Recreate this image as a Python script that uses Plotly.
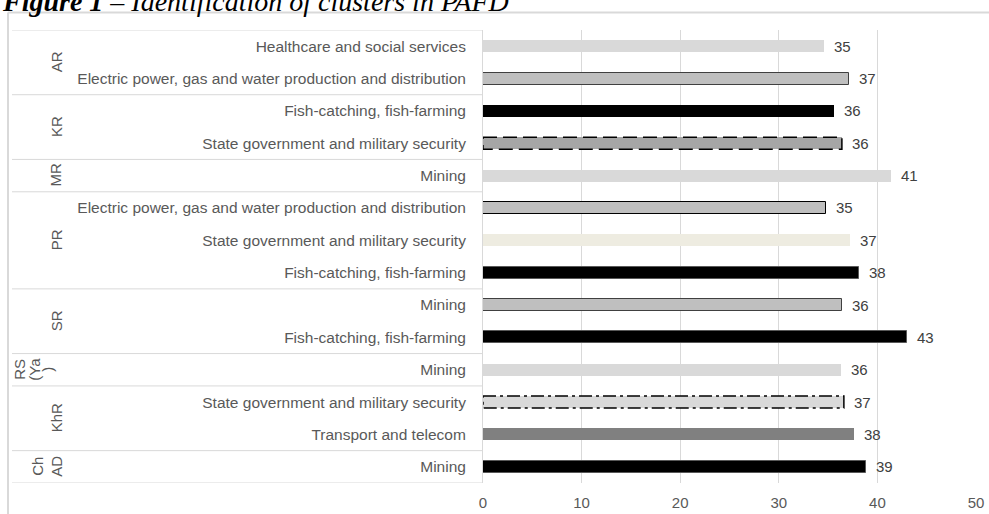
import plotly.graph_objects as go

# ---------------- data ----------------
groups = ["AR", "AR", "KR", "KR", "MR", "PR", "PR", "PR", "SR", "SR",
          "RS (Ya )", "KhR", "KhR", "ChAD"]
industries = [
    "Healthcare and social services",
    "Electric power, gas and water production and distribution",
    "Fish-catching, fish-farming",
    "State government and military security",
    "Mining",
    "Electric power, gas and water production and distribution",
    "State government and military security",
    "Fish-catching, fish-farming",
    "Mining",
    "Fish-catching, fish-farming",
    "Mining",
    "State government and military security",
    "Transport and telecom",
    "Mining",
]
values = [34.6, 37.1, 35.6, 36.4, 41.4, 34.8, 37.2, 38.1, 36.4, 43.0, 36.3, 36.6, 37.6, 38.8]
value_labels = ["35", "37", "36", "36", "41", "35", "37", "38", "36", "43", "36", "37", "38", "39"]

# group label pieces (wrapped lines as drawn in the original)
group_names = ["AR", "KR", "MR", "PR", "SR", "RS (Ya )", "KhR", "ChAD"]
group_lines = [["AR"], ["KR"], ["MR"], ["PR"], ["SR"], ["RS", "(Ya", ")"], ["KhR"], ["Ch", "AD"]]
x_ticks = [0, 10, 20, 30, 40, 50]
title_bold = "Figure 1"
title_rest = " – Identification of clusters in PAFD"

# ---------------- styles ----------------
fills = ["#d9d9d9", "#bfbfbf", "#000000", "#a6a6a6", "#d9d9d9", "#bfbfbf", "#eeece1",
         "#000000", "#bfbfbf", "#000000", "#d9d9d9", "#d9d9d9", "#808080", "#000000"]
outline_col = ["rgba(0,0,0,0)", "#404040", "#000000", "#000000", "rgba(0,0,0,0)", "#000000",
               "rgba(0,0,0,0)", "#595959", "#404040", "#595959", "rgba(0,0,0,0)", "#000000",
               "rgba(0,0,0,0)", "#595959"]
outline_w = [0, 1, 0, 0, 0, 1, 0, 1, 1, 1, 0, 0, 0, 1]
outline_dash = [None, None, None, "14px,6px", None, None, None, None, None, None, None,
                "13px,4px,3px,4px", None, None]

W, H = 989, 514
L, R, T, B = 483, 13, 30, 31
PW, PH = W - L - R, H - T - B
BAR_W = 0.37
FONT = "Liberation Sans"


def px_x(px):
    return (px - L) / PW


def px_y(py):
    return (H - B - py) / PH


n = len(values)
rows = list(range(n))

fig = go.Figure()
fig.add_trace(go.Bar(
    orientation="h",
    x=values,
    y=rows,
    width=BAR_W,
    marker=dict(color=fills, line=dict(color=outline_col, width=outline_w)),
    hoverinfo="skip",
    showlegend=False,
))

shapes = []
annotations = []

# dashed outlines derived from the data
for i, (v, d) in enumerate(zip(values, outline_dash)):
    if d:
        shapes.append(dict(type="rect", xref="x", yref="y", x0=0, x1=v,
                           y0=i - BAR_W / 2, y1=i + BAR_W / 2,
                           line=dict(color="#000000", width=1.5, dash=d),
                           fillcolor="rgba(0,0,0,0)", layer="above"))

# value labels
for i, (v, t) in enumerate(zip(values, value_labels)):
    annotations.append(dict(x=v, y=i, xref="x", yref="y", text=t, showarrow=False,
                            xanchor="left", yanchor="middle", xshift=8,
                            font=dict(family=FONT, size=15, color="#404040")))

# group separators and group labels
bounds = [-0.5]
for i in range(1, n):
    if groups[i] != groups[i - 1]:
        bounds.append(i - 0.5)
bounds.append(n - 0.5)
for b in bounds:
    shapes.append(dict(type="line", xref="paper", yref="y", x0=px_x(12), x1=0, y0=b, y1=b,
                       line=dict(color="#d9d9d9", width=1), layer="below"))

gi = 0
start = 0
line_x = {1: [56], 2: [38, 57], 3: [20, 35, 48]}
for k in range(1, n + 1):
    if k == n or groups[k] != groups[k - 1]:
        yc = (start + k - 1) / 2
        lines = group_lines[gi]
        for ln, xp in zip(lines, line_x[len(lines)]):
            annotations.append(dict(x=px_x(xp), y=yc, xref="paper", yref="y", text=ln,
                                    showarrow=False, textangle=-90, xanchor="center",
                                    yanchor="middle",
                                    font=dict(family=FONT, size=15, color="#595959")))
        gi += 1
        start = k

# outer chart border (top and left)
shapes.append(dict(type="line", xref="paper", yref="paper", x0=px_x(8), x1=px_x(W + 5),
                   y0=px_y(12.5), y1=px_y(12.5), line=dict(color="#d9d9d9", width=2)))
shapes.append(dict(type="line", xref="paper", yref="paper", x0=px_x(8), x1=px_x(8),
                   y0=px_y(12.5), y1=px_y(H + 5), line=dict(color="#d9d9d9", width=2)))

# title (cut at the top as in the original)
annotations.append(dict(x=px_x(0), y=px_y(1.5), xref="paper", yref="paper",
                        text="<b><i>" + title_bold + "</i></b><i>" + title_rest + "</i>",
                        showarrow=False, xanchor="left", yanchor="middle",
                        font=dict(family="Liberation Serif", size=28, color="#000000")))

fig.update_layout(
    width=W, height=H,
    margin=dict(l=L, r=R, t=T, b=B, pad=0, autoexpand=False),
    paper_bgcolor="#ffffff", plot_bgcolor="#ffffff",
    bargap=0,
    shapes=shapes,
    annotations=annotations,
    xaxis=dict(range=[0, 50], tickvals=x_ticks, ticktext=[str(t) for t in x_ticks],
               showgrid=True, gridcolor="#d9d9d9", gridwidth=1, zeroline=False,
               showline=False, ticks="", ticklabelstandoff=9, automargin=False,
               tickfont=dict(family=FONT, size=15, color="#595959"),
               fixedrange=True),
    yaxis=dict(range=[n - 0.5, -0.5], tickvals=rows, ticktext=industries,
               showgrid=False, zeroline=False, showline=True, linecolor="#d9d9d9",
               linewidth=1, ticks="", ticklabelstandoff=13, automargin=False,
               tickfont=dict(family=FONT, size=15.5, color="#595959"),
               fixedrange=True),
)

fig.write_html("out.html", config={"displayModeBar": False})
